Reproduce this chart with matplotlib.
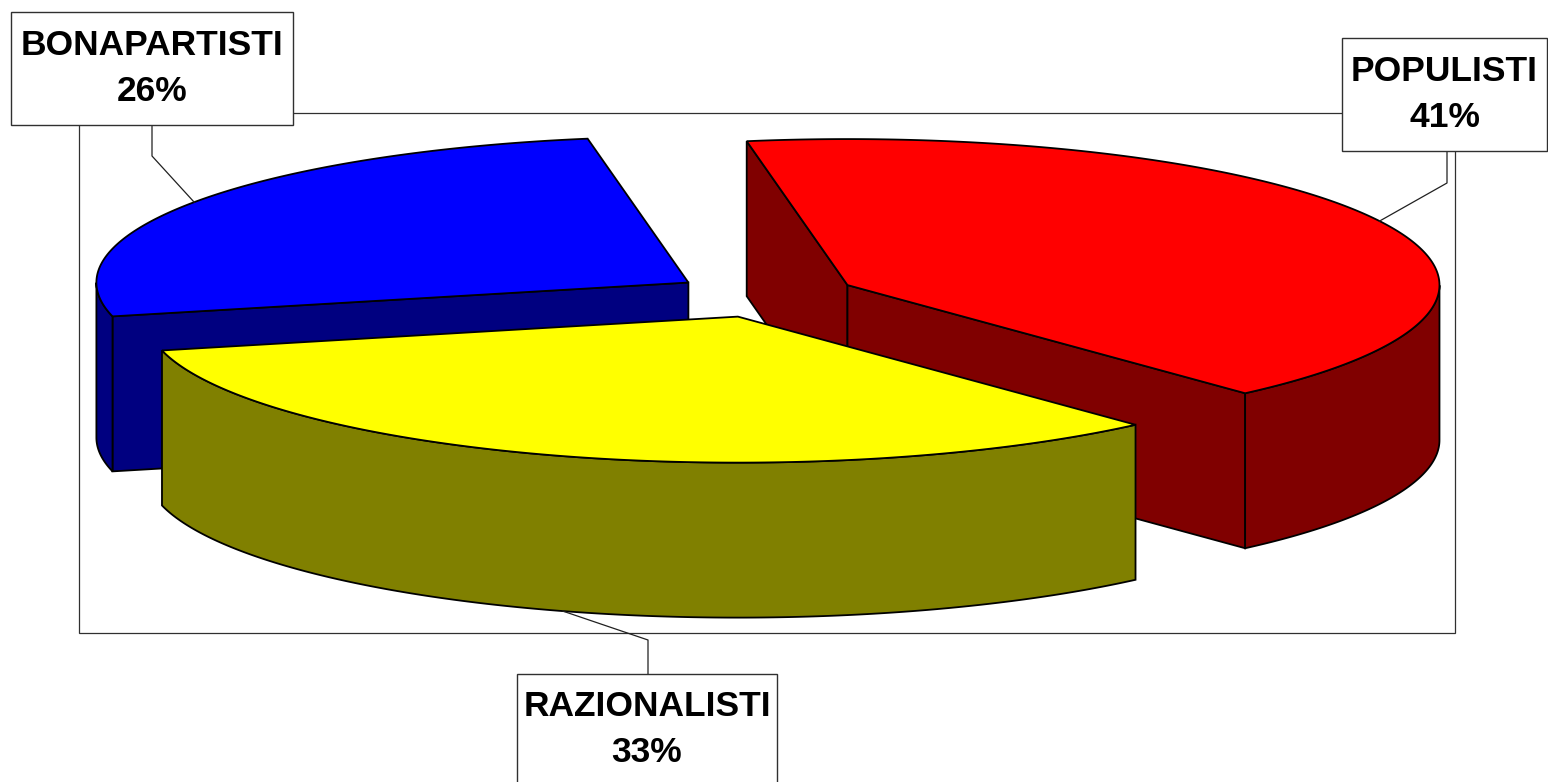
import numpy as np
import matplotlib
matplotlib.use('Agg')
import matplotlib.pyplot as plt
from matplotlib.patches import Polygon, Rectangle

# dati
labels = ['POPULISTI', 'RAZIONALISTI', 'BONAPARTISTI']
values = [41, 33, 26]
top_colors = ['#FF0000', '#FFFF00', '#0000FF']
side_colors = ['#800000', '#808000', '#000080']

# geometria della torta 3D (coordinate in pixel)
cx, cy = 765, 295
ra, rb = 592, 146
depth = 155
explode = 0.155
start_angle = 99.8

# posizioni dei riquadri etichetta (x0, y0, x1, y1) e gomito delle linee guida
boxes = {
    'POPULISTI': (1342, 38, 1547, 151),
    'RAZIONALISTI': (517, 674, 777, 792),
    'BONAPARTISTI': (11, 12, 293, 125),
}
elbows = {
    'POPULISTI': (1447, 183),
    'RAZIONALISTI': (648, 640),
    'BONAPARTISTI': (152, 156),
}

plt.rcParams['font.family'] = ['Liberation Sans', 'DejaVu Sans']

fig = plt.figure(figsize=(15.48, 7.82), dpi=100)
ax = fig.add_axes([0, 0, 1, 1])
ax.set_xlim(0, 1548)
ax.set_ylim(782, 0)
ax.axis('off')

# cornice dell'area del grafico
ax.add_patch(Rectangle((78.5, 112.5), 1455 - 78.5, 633 - 112.5, fill=False,
                       edgecolor='#303030', lw=0.9, zorder=1))

total = sum(values)
spans = [v / total * 360 for v in values]
slices = []
a0 = start_angle
for lab, v, sp, tc, sc in zip(labels, values, spans, top_colors, side_colors):
    a1 = a0 - sp
    mid = np.radians((a0 + a1) / 2)
    px = cx + explode * ra * np.cos(mid)
    py = cy - explode * rb * np.sin(mid)
    slices.append(dict(label=lab, value=v, a0=a0, a1=a1, mid=mid, px=px, py=py, tc=tc, sc=sc))
    a0 = a1


def pt(s, ang, dz=0):
    return (s['px'] + ra * np.cos(ang), s['py'] - rb * np.sin(ang) + dz)


# ordine di disegno: dietro -> davanti
order = sorted(slices, key=lambda s: s['py'])
z = 2
for s in order:
    t0, t1 = np.radians(s['a0']), np.radians(s['a1'])
    apex = (s['px'], s['py'])
    # facce radiali (solo quelle rivolte verso chi guarda)
    for ang, normal in ((t0, t0 + np.pi / 2), (t1, t1 - np.pi / 2)):
        if np.sin(normal) >= 0:
            continue
        e = pt(s, ang)
        quad = [apex, e, (e[0], e[1] + depth), (apex[0], apex[1] + depth)]
        ax.add_patch(Polygon(quad, closed=True, facecolor=s['sc'], edgecolor='black', lw=1.3, zorder=z))
    # parete curva (solo parte frontale)
    th = np.linspace(t0, t1, 400)
    front = th[np.sin(th) <= 0]
    if len(front) > 1:
        top = [pt(s, a) for a in front]
        bot = [pt(s, a, depth) for a in front[::-1]]
        ax.add_patch(Polygon(top + bot, closed=True, facecolor=s['sc'], edgecolor='black', lw=1.3, zorder=z + 1))
    # faccia superiore
    arc = [pt(s, a) for a in th]
    ax.add_patch(Polygon([apex] + arc, closed=True, facecolor=s['tc'], edgecolor='black', lw=1.3, zorder=z + 2))
    z += 3

# etichette con linee guida
for s in slices:
    lab = s['label']
    x0, y0, x1, y1 = boxes[lab]
    ex, ey = elbows[lab]
    ax_, ay_ = pt(s, s['mid'])
    if np.sin(s['mid']) < 0:
        ay_ += depth
    by = y1 if ey > y1 else y0
    ax.plot([ax_, ex, ex], [ay_, ey, by], color='#202020', lw=0.9, zorder=50)
    ax.add_patch(Rectangle((x0, y0), x1 - x0, y1 - y0, facecolor='white',
                           edgecolor='#303030', lw=1, zorder=51))
    ty = (y0 + y1) / 2 if lab != 'RAZIONALISTI' else 730
    ax.text((x0 + x1) / 2, ty, f"{lab}\n{s['value']}%", ha='center', va='center',
            fontsize=25.5, fontweight='bold', linespacing=1.5, zorder=52)

fig.savefig('out.png', dpi=100)
